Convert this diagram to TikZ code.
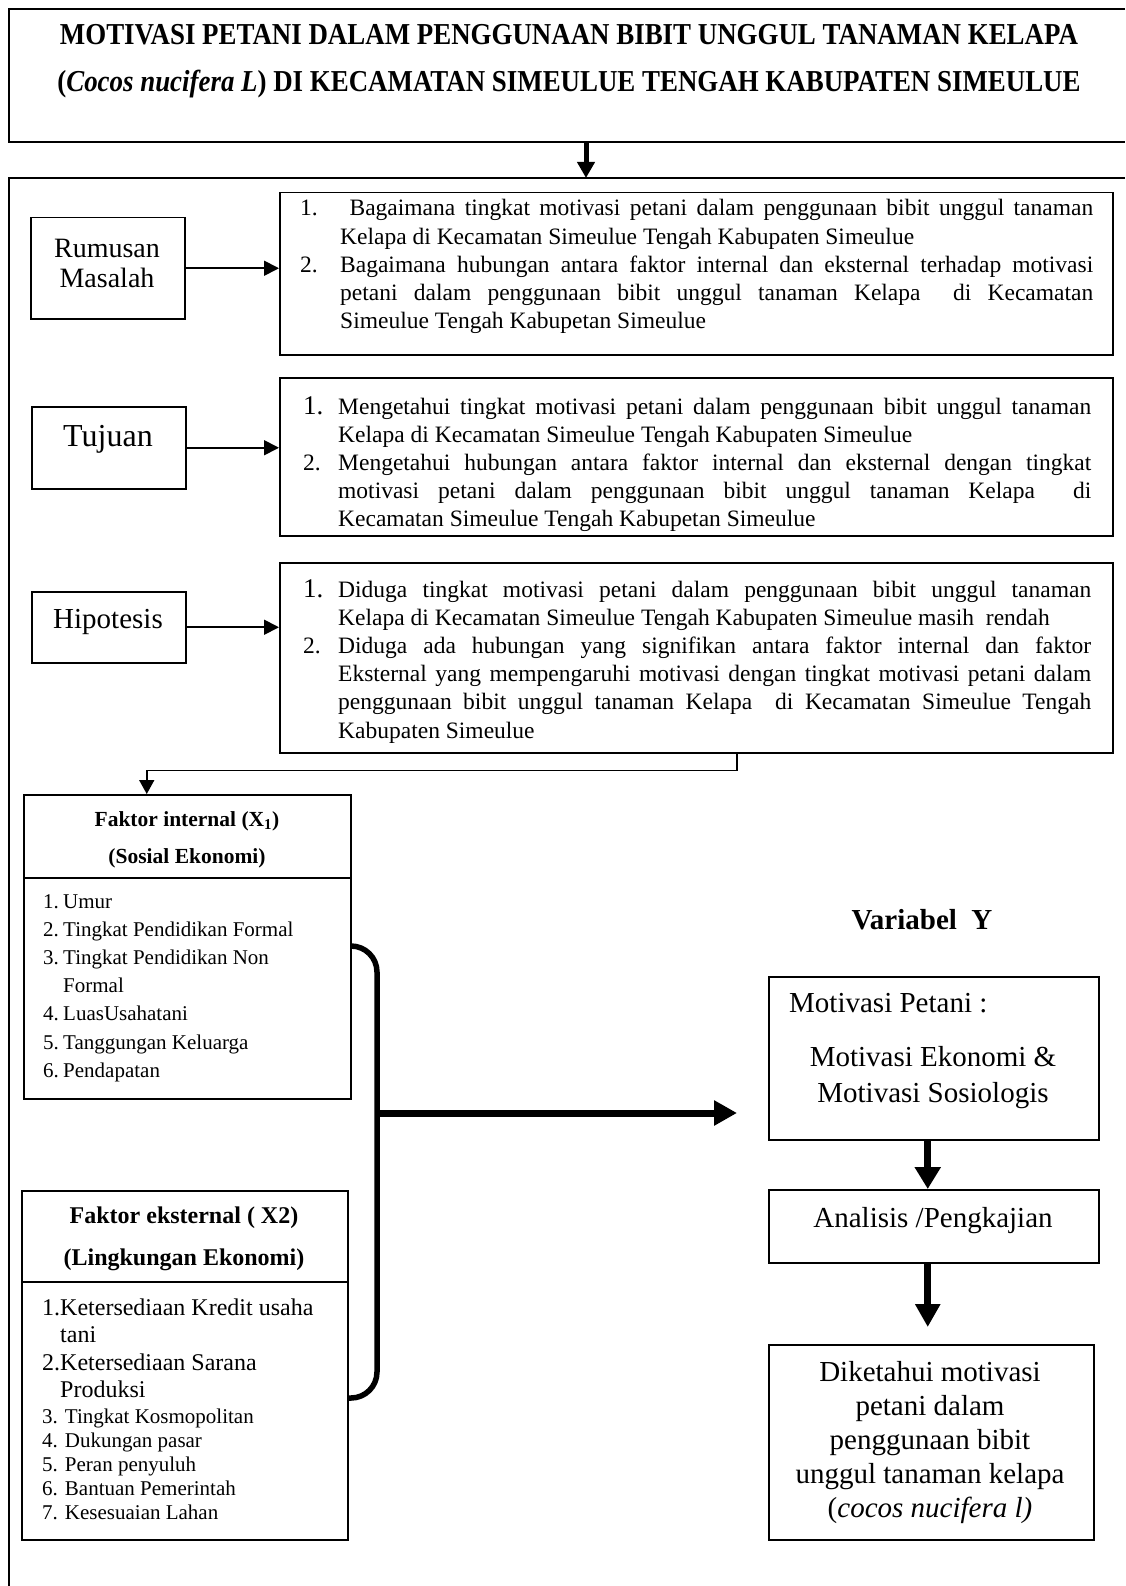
\documentclass[tikz,border=0pt]{standalone}
\usepackage{fontspec}
\usepackage{graphicx}
\setmainfont{Liberation Serif}
\usetikzlibrary{arrows.meta}
\newcommand{\hitem}[2]{\hangindent=#1\hangafter=1\noindent\makebox[#1][l]{#2}}
\begin{document}
\begin{tikzpicture}[x=1pt,y=-1pt,
  bx/.style={draw, line width=1.5pt, inner sep=0pt, anchor=north west},
  txt/.style={inner sep=0pt, anchor=base west},
  ctr/.style={inner sep=0pt, anchor=base},
  frm/.style={line width=1.5pt},
  arr/.style={line width=1.8pt, -{Triangle[length=15pt,width=15pt]}},
  fat/.style={line width=7pt, -{Triangle[length=23pt,width=24pt]}},
  body/.style={font=\fontsize{23.5}{28.2}\selectfont},
  big/.style={font=\fontsize{29}{36}\selectfont}]
\useasboundingbox (0,0) rectangle (1125,1586);

% ---- title frame and outer frame (open to the right)
\draw[frm] (1125,9) -- (9,9) -- (9,142) -- (1125,142);
\draw[frm] (1125,178) -- (9,178) -- (9,1586);
\node[ctr, font=\bfseries\fontsize{26.9}{30}\selectfont] (title1) at (569,45)
  {\scalebox{1}[1.13]{MOTIVASI PETANI DALAM PENGGUNAAN BIBIT UNGGUL TANAMAN KELAPA}};
\node[ctr, font=\bfseries\fontsize{26.9}{30}\selectfont] (title2) at (569,92)
  {\scalebox{1}[1.13]{(\textit{Cocos nucifera L}) DI KECAMATAN SIMEULUE TENGAH KABUPATEN SIMEULUE}};
\coordinate (tA) at (586,142);
\coordinate (tB) at (586,178);
\draw[line width=5pt, -{Triangle[length=16pt,width=17pt]}] (tA) -- (tB);

% ---- left label boxes and text boxes
\node[bx, minimum width=154pt, minimum height=101pt] (rm) at (30,217) {};
\node[ctr, align=center, font=\fontsize{28}{30.5}\selectfont] (rmt) at (107,288) {Rumusan\\Masalah};
\node[bx, minimum width=833pt, minimum height=162pt] (tb1) at (279,192) {};
\node[txt, body] (q1) at (300,216) {\parbox[t]{793pt}{\hyphenpenalty=10000\relax
\hitem{40pt}{1.}\ Bagaimana tingkat motivasi petani dalam penggunaan bibit unggul tanaman\linebreak Kelapa di Kecamatan Simeulue Tengah Kabupaten Simeulue\par
\hitem{40pt}{2.}Bagaimana hubungan antara faktor internal dan eksternal terhadap motivasi\linebreak petani dalam penggunaan bibit unggul tanaman Kelapa\ \ di Kecamatan\linebreak Simeulue Tengah Kabupetan Simeulue}};

\node[bx, minimum width=154pt, minimum height=82pt] (tj) at (31,406) {};
\node[ctr, font=\fontsize{32}{34}\selectfont] (tjt) at (108,446) {Tujuan};
\node[bx, minimum width=833pt, minimum height=158pt] (tb2) at (279,377) {};
\node[txt, body] (q2) at (303,414) {\parbox[t]{788pt}{\hyphenpenalty=10000\relax
\hitem{35pt}{\fontsize{27}{28}\selectfont 1.}Mengetahui tingkat motivasi petani dalam penggunaan bibit unggul tanaman\linebreak Kelapa di Kecamatan Simeulue Tengah Kabupaten Simeulue\par
\hitem{35pt}{2.}Mengetahui hubungan antara faktor internal dan eksternal dengan tingkat\linebreak motivasi petani dalam penggunaan bibit unggul tanaman Kelapa\ \ di\linebreak Kecamatan Simeulue Tengah Kabupetan Simeulue}};

\node[bx, minimum width=154pt, minimum height=71pt] (hp) at (31,591) {};
\node[ctr, font=\fontsize{29}{31}\selectfont] (hpt) at (108,628) {Hipotesis};
\node[bx, minimum width=833pt, minimum height=190pt] (tb3) at (279,562) {};
\node[txt, body] (q3) at (303,597) {\parbox[t]{788pt}{\hyphenpenalty=10000\relax
\hitem{35pt}{\fontsize{27}{28}\selectfont 1.}Diduga tingkat motivasi petani dalam penggunaan bibit unggul tanaman\linebreak Kelapa di Kecamatan Simeulue Tengah Kabupaten Simeulue masih\ \ rendah\par
\hitem{35pt}{2.}Diduga ada hubungan yang signifikan antara faktor internal dan faktor\linebreak Eksternal yang mempengaruhi motivasi dengan tingkat motivasi petani dalam\linebreak penggunaan bibit unggul tanaman Kelapa\ \ di Kecamatan Simeulue Tengah\linebreak Kabupaten Simeulue}};

\draw[arr] (rm.east) -- (rm.east -| tb1.west);
\draw[arr] (tj.east) -- (tj.east -| tb2.west);
\draw[arr] (hp.east) -- (hp.east -| tb3.west);

% ---- Faktor internal
\node[bx, minimum width=327pt, minimum height=304pt] (fi) at (23,794) {};
\draw[frm] (fi.west |- 0,878) -- (fi.east |- 0,878);
\node[ctr, font=\bfseries\fontsize{21.5}{24}\selectfont] (fih1) at (187,826) {Faktor internal (X\textsubscript{1})};
\node[ctr, font=\bfseries\fontsize{21.5}{24}\selectfont] (fih2) at (187,863) {(Sosial Ekonomi)};
\node[txt, font=\fontsize{21}{28.2}\selectfont] (fil) at (43,908) {\begin{tabular}[t]{@{}l@{}}
\makebox[20pt][l]{1.}Umur\\
\makebox[20pt][l]{2.}Tingkat Pendidikan Formal\\
\makebox[20pt][l]{3.}Tingkat Pendidikan Non\\
\makebox[20pt][l]{}Formal\\
\makebox[20pt][l]{4.}LuasUsahatani\\
\makebox[20pt][l]{5.}Tanggungan Keluarga\\
\makebox[20pt][l]{6.}Pendapatan\end{tabular}};
\draw[line width=1.8pt, -{Triangle[length=14pt,width=15pt]}] ([xshift=40.5pt]tb3.south) -- ++(0,17) -| ([xshift=-40.5pt]fi.north);

% ---- Faktor eksternal
\node[bx, minimum width=326pt, minimum height=349pt] (fe) at (21,1190) {};
\draw[frm] (fe.west |- 0,1282) -- (fe.east |- 0,1282);
\node[ctr, font=\bfseries\fontsize{24}{26}\selectfont] (feh1) at (184,1223) {Faktor eksternal ( X2)};
\node[ctr, font=\bfseries\fontsize{24}{26}\selectfont] (feh2) at (184,1265) {(Lingkungan Ekonomi)};
\node[txt, font=\fontsize{24}{27.5}\selectfont] (fel1) at (42,1315) {\begin{tabular}[t]{@{}l@{}}
1.Ketersediaan Kredit usaha\\
\hspace{18pt}tani\\
2.Ketersediaan Sarana\\
\hspace{18pt}Produksi\end{tabular}};
\node[txt, font=\fontsize{21}{24.2}\selectfont] (fel2) at (42,1423) {\begin{tabular}[t]{@{}l@{}}
3. Tingkat Kosmopolitan\\
4. Dukungan pasar\\
5. Peran penyuluh\\
6. Bantuan Pemerintah\\
7. Kesesuaian Lahan\end{tabular}};

% ---- bracket joining both factors
\coordinate (bj) at (377,1113);
\draw[line width=5.5pt, rounded corners=26pt] (fi.east |- 0,946) -| (bj) |- (fe.east |- 0,1398);
\coordinate (ytip) at (737,1113);
\draw[fat] (bj) -- (ytip);

% ---- right column
\node[ctr, font=\bfseries\fontsize{29}{31}\selectfont] (vy) at (922,929) {Variabel\ \ Y};
\node[bx, minimum width=330pt, minimum height=163pt] (mp) at (768,976) {};
\node[txt, big] (mpt) at (789,1012) {Motivasi Petani :};
\node[ctr, big, align=center] (mpe) at (933,1102) {Motivasi Ekonomi \&\\Motivasi Sosiologis};
\node[bx, minimum width=330pt, minimum height=73pt] (an) at (768,1189) {};
\node[ctr, big] (ant) at (933,1227) {Analisis /Pengkajian};
\node[bx, minimum width=325pt, minimum height=195pt] (dk) at (768,1344) {};
\node[ctr, align=center, font=\fontsize{29}{34}\selectfont] (dkt) at (930,1517)
  {Diketahui motivasi\\petani dalam\\penggunaan bibit\\unggul tanaman kelapa\\(\textit{cocos nucifera l)}};
\draw[fat, -{Triangle[length=22pt,width=25pt]}] ([xshift=-6pt]mp.south) -- ([xshift=-6pt]an.north);
\draw[fat, -{Triangle[length=23pt,width=24pt]}, shorten >=17pt] ([xshift=-6pt]an.south) -- ([xshift=-6pt]an.south |- dk.north);
\end{tikzpicture}
\end{document}
